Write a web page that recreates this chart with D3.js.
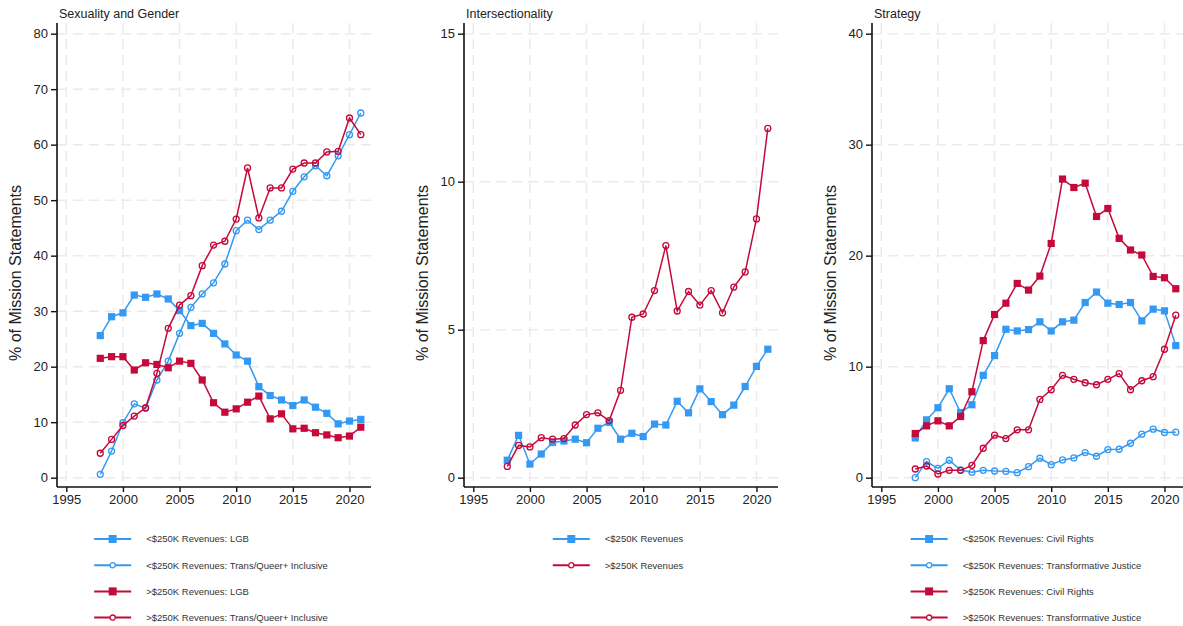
<!DOCTYPE html>
<html>
<head>
<meta charset="utf-8">
<script src="https://cdn.jsdelivr.net/npm/d3@7"></script>
<style>
  body { margin: 0; background: #fff; }
  svg { display: block; font-family: "Liberation Sans", Arial, sans-serif; }
</style>
</head>
<body>
<div id="chart"></div>
<script>
const years = d3.range(1998, 2022);
const xTicks = [1995, 2000, 2005, 2010, 2015, 2020];

const panelTitles = ["Sexuality and Gender", "Intersectionality", "Strategy"];
const yMaxes = [80, 15, 40];
const yTicks = [[0, 10, 20, 30, 40, 50, 60, 70, 80], [0, 5, 10, 15], [0, 10, 20, 30, 40]];

// Sexuality and Gender
const smallLGB = [25.6, 29.0, 29.7, 32.9, 32.5, 33.1, 32.2, 30.1, 27.4, 27.8, 26.0, 24.1, 22.1, 21.0, 16.4, 14.8, 14.0, 13.0, 14.0, 12.7, 11.6, 9.7, 10.2, 10.5];
const smallTrans = [0.6, 4.8, 9.9, 13.3, 12.5, 17.6, 21.0, 26.0, 30.7, 33.1, 35.1, 38.5, 44.5, 46.4, 44.7, 46.4, 48.0, 51.6, 54.2, 56.2, 54.4, 58.0, 61.8, 65.7];
const largeLGB = [21.5, 21.8, 21.8, 19.4, 20.7, 20.4, 19.8, 21.0, 20.6, 17.6, 13.5, 11.8, 12.4, 13.6, 14.7, 10.6, 11.5, 8.8, 8.9, 8.1, 7.7, 7.2, 7.5, 9.1];
const largeTrans = [4.4, 6.9, 9.4, 11.1, 12.6, 18.8, 26.9, 31.1, 32.8, 38.2, 41.9, 42.6, 46.6, 55.8, 46.8, 52.2, 52.2, 55.6, 56.7, 56.7, 58.7, 58.8, 64.8, 61.8];

// Intersectionality
const smallInter = [0.59, 1.43, 0.46, 0.80, 1.19, 1.24, 1.30, 1.18, 1.67, 1.87, 1.30, 1.50, 1.39, 1.81, 1.78, 2.58, 2.19, 3.00, 2.57, 2.13, 2.45, 3.08, 3.76, 4.34];
const largeInter = [0.38, 1.09, 1.04, 1.35, 1.30, 1.32, 1.78, 2.13, 2.19, 1.93, 2.95, 5.42, 5.53, 6.32, 7.84, 5.63, 6.29, 5.83, 6.32, 5.57, 6.44, 6.95, 8.74, 11.8];

// Strategy
const smallCivil = [3.58, 5.21, 6.30, 8.01, 5.87, 6.57, 9.22, 11.0, 13.37, 13.22, 13.34, 14.04, 13.22, 14.04, 14.19, 15.78, 16.72, 15.72, 15.6, 15.78, 14.13, 15.18, 15.03, 11.9];
const smallTJ = [0.0, 1.45, 0.84, 1.57, 0.69, 0.48, 0.66, 0.60, 0.57, 0.45, 0.99, 1.75, 1.17, 1.60, 1.78, 2.26, 1.93, 2.53, 2.56, 3.10, 3.92, 4.37, 4.07, 4.10];
const largeCivil = [3.98, 4.67, 5.12, 4.67, 5.51, 7.74, 12.35, 14.70, 15.72, 17.5, 16.9, 18.16, 21.1, 26.9, 26.14, 26.53, 23.53, 24.25, 21.56, 20.51, 20.06, 18.13, 18.01, 17.02];
const largeTJ = [0.78, 1.05, 0.33, 0.66, 0.66, 1.11, 2.65, 3.83, 3.52, 4.31, 4.31, 7.05, 7.92, 9.22, 8.86, 8.55, 8.37, 8.86, 9.37, 7.92, 8.73, 9.10, 11.57, 14.64];

const BLUE = "#3399f3", RED = "#c5093b";

const panels = [
  { series: [
    { label: "<$250K Revenues: LGB", values: smallLGB, color: BLUE, shape: "square" },
    { label: "<$250K Revenues: Trans/Queer+ Inclusive", values: smallTrans, color: BLUE, shape: "circle" },
    { label: ">$250K Revenues: LGB", values: largeLGB, color: RED, shape: "square" },
    { label: ">$250K Revenues: Trans/Queer+ Inclusive", values: largeTrans, color: RED, shape: "circle" }
  ]},
  { series: [
    { label: "<$250K Revenues", values: smallInter, color: BLUE, shape: "square" },
    { label: ">$250K Revenues", values: largeInter, color: RED, shape: "circle" }
  ]},
  { series: [
    { label: "<$250K Revenues: Civil Rights", values: smallCivil, color: BLUE, shape: "square" },
    { label: "<$250K Revenues: Transformative Justice", values: smallTJ, color: BLUE, shape: "circle" },
    { label: ">$250K Revenues: Civil Rights", values: largeCivil, color: RED, shape: "square" },
    { label: ">$250K Revenues: Transformative Justice", values: largeTJ, color: RED, shape: "circle" }
  ]}
];

const W = 1183, H = 626;
const axisLeft = [57, 464, 872];
const plotTop = 23, plotH = 464, plotW = 314;

const svg = d3.select("#chart").append("svg")
  .attr("width", W).attr("height", H);

panels.forEach((panel, i) => {
  const g = svg.append("g").attr("transform", `translate(${axisLeft[i]},${plotTop})`);
  const yMax = yMaxes[i];

  const x = d3.scaleLinear().domain([1994.18, 2021.9]).range([0, plotW]);
  const y = d3.scaleLinear().domain([-0.021 * yMax, 1.024 * yMax]).range([plotH, 0]);

  // grid
  g.append("g").selectAll("line").data(yTicks[i]).join("line")
    .attr("x1", 0).attr("x2", plotW)
    .attr("y1", d => y(d)).attr("y2", d => y(d))
    .attr("stroke", "#ebebeb").attr("stroke-width", 1.5).attr("stroke-dasharray", "10,6");
  g.append("g").selectAll("line").data(xTicks).join("line")
    .attr("x1", d => x(d)).attr("x2", d => x(d))
    .attr("y1", 0).attr("y2", plotH)
    .attr("stroke", "#ebebeb").attr("stroke-width", 1.5).attr("stroke-dasharray", "10,6");

  // axes
  const yAxis = g.append("g")
    .call(d3.axisLeft(y).tickValues(yTicks[i]).tickSize(6).tickPadding(3));
  const xAxis = g.append("g").attr("transform", `translate(0,${plotH})`)
    .call(d3.axisBottom(x).tickValues(xTicks).tickFormat(d3.format("d")).tickSize(5).tickPadding(3));
  [yAxis, xAxis].forEach(a => {
    a.select(".domain").attr("stroke", "#111").attr("stroke-width", 1.6);
    a.selectAll(".tick line").attr("stroke", "#111").attr("stroke-width", 1.4);
    a.selectAll(".tick text").attr("fill", "#222").style("font-size", "13px")
      .style("font-family", "'Liberation Sans', Arial, sans-serif");
  });
  yAxis.select(".domain").attr("d", `M0,0V${plotH}`);
  xAxis.select(".domain").attr("d", `M0,0H${plotW}`);

  // title
  svg.append("text")
    .attr("x", axisLeft[i] + 2).attr("y", 18)
    .attr("fill", "#222").style("font-size", "12.5px")
    .text(panelTitles[i]);

  // y label
  svg.append("text")
    .attr("transform", `translate(${axisLeft[i] - 36},273) rotate(-90)`)
    .attr("text-anchor", "middle")
    .attr("fill", "#222").style("font-size", "16px")
    .text("% of Mission Statements");

  const line = d3.line().x((d, k) => x(years[k])).y(d => y(d));

  panel.series.forEach(s => {
    g.append("path").datum(s.values)
      .attr("d", line).attr("fill", "none")
      .attr("stroke", s.color).attr("stroke-width", 1.5);
    const pts = g.append("g");
    if (s.shape === "square") {
      pts.selectAll("rect").data(s.values).join("rect")
        .attr("x", (d, k) => x(years[k]) - 3.6).attr("y", d => y(d) - 3.6)
        .attr("width", 7.2).attr("height", 7.2).attr("fill", s.color);
    } else {
      pts.selectAll("circle").data(s.values).join("circle")
        .attr("cx", (d, k) => x(years[k])).attr("cy", d => y(d))
        .attr("r", 3).attr("fill", "none")
        .attr("stroke", s.color).attr("stroke-width", 1.3);
    }
  });

  // legend
  const lg = svg.append("g");
  const items = lg.selectAll("g").data(panel.series).join("g")
    .attr("transform", (d, k) => `translate(0,${539 + k * 26.2})`);
  items.append("text")
    .attr("x", 52).attr("dy", "0.35em")
    .attr("fill", "#333").style("font-size", "9.5px")
    .text(d => d.label);
  let maxW = 0;
  items.selectAll("text").each(function () { maxW = Math.max(maxW, this.getComputedTextLength()); });
  const blockW = 52 + maxW;
  const cx = axisLeft[i] + plotW / 2 - 3;
  lg.attr("transform", `translate(${cx - blockW / 2},0)`);
  items.append("line")
    .attr("x1", 0).attr("x2", 37)
    .attr("stroke", d => d.color).attr("stroke-width", 2);
  items.each(function (d) {
    const it = d3.select(this);
    if (d.shape === "square") {
      it.append("rect").attr("x", 14.5).attr("y", -4).attr("width", 8).attr("height", 8).attr("fill", d.color);
    } else {
      it.append("circle").attr("cx", 18.5).attr("r", 2.6)
        .attr("fill", "#fff").attr("stroke", d.color).attr("stroke-width", 1.3);
    }
  });
});
</script>
</body>
</html>
